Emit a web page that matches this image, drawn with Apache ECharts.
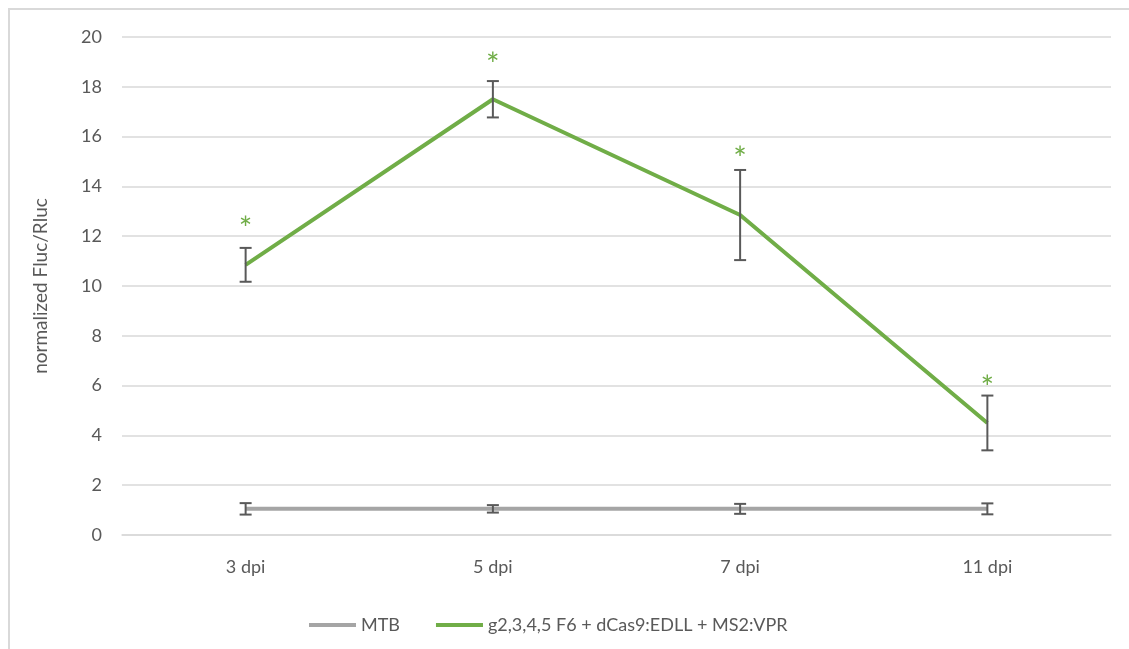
<!DOCTYPE html>
<html>
<head>
<meta charset="utf-8">
<script src="https://cdn.jsdelivr.net/npm/echarts@6/dist/echarts.min.js"></script>
<style>
html,body{margin:0;padding:0;background:#fff;}
#frame{position:absolute;left:8px;top:8px;width:1130px;height:650px;border-left:2px solid #D9D9D9;border-top:2px solid #D9D9D9;box-sizing:border-box;}
#chart{position:absolute;left:0;top:0;width:1129px;height:649px;}
</style>
</head>
<body>
<div id="frame"></div>
<div id="chart"></div>
<script>
const categories = ['3 dpi', '5 dpi', '7 dpi', '11 dpi'];
const mtbValues = [1.05, 1.05, 1.05, 1.05];
const mtbErrors = [0.23, 0.15, 0.2, 0.22];
const greenValues = [10.85, 17.5, 12.85, 4.5];
const greenErrors = [0.68, 0.73, 1.81, 1.1];
const starValues = [12.6, 19.15, 15.4, 6.2];
const yTicks = [0, 2, 4, 6, 8, 10, 12, 14, 16, 18, 20];

const FONT = 'Lato';
const TXT = '#595959';
const GREEN = '#70AD47';
const GRAY = '#A5A5A5';

function errData(vals, errs) {
  return vals.map((v, i) => [i, v - errs[i], v + errs[i]]);
}

function renderErr(params, api) {
  const x = api.value(0);
  const lo = api.coord([x, api.value(1)]);
  const hi = api.coord([x, api.value(2)]);
  const half = 6;
  const style = { stroke: '#595959', lineWidth: 2 };
  return {
    type: 'group',
    children: [
      { type: 'line', shape: { x1: lo[0], y1: lo[1], x2: hi[0], y2: hi[1] }, style },
      { type: 'line', shape: { x1: hi[0] - half, y1: hi[1], x2: hi[0] + half, y2: hi[1] }, style },
      { type: 'line', shape: { x1: lo[0] - half, y1: lo[1], x2: lo[0] + half, y2: lo[1] }, style }
    ]
  };
}

function renderStar(params, api) {
  const p = api.coord([api.value(0), api.value(1)]);
  return {
    type: 'text',
    style: { text: '*', x: p[0], y: p[1] + 8, fill: GREEN, font: '32px ' + FONT, align: 'center', verticalAlign: 'middle' }
  };
}

const chart = echarts.init(document.getElementById('chart'));
chart.setOption({
  animation: false,
  grid: { left: 122, right: 18, top: 37, bottom: 114 },
  legend: {
    left: 304, top: 611,
    icon: 'rect', itemWidth: 47, itemHeight: 4, itemGap: 36,
    textStyle: { color: TXT, fontFamily: FONT, fontSize: 18 },
    data: ['MTB', 'g2,3,4,5 F6 + dCas9:EDLL + MS2:VPR']
  },
  xAxis: {
    type: 'category', data: categories, boundaryGap: true,
    axisLine: { lineStyle: { color: '#D9D9D9', width: 1.5 } },
    axisTick: { show: false },
    axisLabel: { color: TXT, fontFamily: FONT, fontSize: 18, margin: 23 }
  },
  yAxis: {
    type: 'value', min: 0, max: 20, interval: 2,
    name: 'normalized Fluc/Rluc', nameLocation: 'middle', nameGap: 72, nameRotate: 90,
    nameTextStyle: { color: TXT, fontFamily: FONT, fontSize: 19 },
    axisLine: { show: false }, axisTick: { show: false },
    axisLabel: { color: TXT, fontFamily: FONT, fontSize: 18, margin: 20,
      formatter: v => yTicks.includes(v) ? String(v) : '' },
    splitLine: { lineStyle: { color: '#D9D9D9', width: 1.5 } }
  },
  series: [
    { name: 'MTB', type: 'line', data: mtbValues, symbol: 'none',
      lineStyle: { color: GRAY, width: 4 }, itemStyle: { color: GRAY }, z: 2 },
    { name: 'g2,3,4,5 F6 + dCas9:EDLL + MS2:VPR', type: 'line', data: greenValues, symbol: 'none',
      lineStyle: { color: GREEN, width: 4 }, itemStyle: { color: GREEN }, z: 2 },
    { type: 'custom', renderItem: renderErr, data: errData(mtbValues, mtbErrors), z: 3, silent: true },
    { type: 'custom', renderItem: renderErr, data: errData(greenValues, greenErrors), z: 3, silent: true },
    { type: 'custom', renderItem: renderStar, data: starValues.map((v, i) => [i, v]), z: 4, silent: true }
  ]
});
</script>
</body>
</html>
